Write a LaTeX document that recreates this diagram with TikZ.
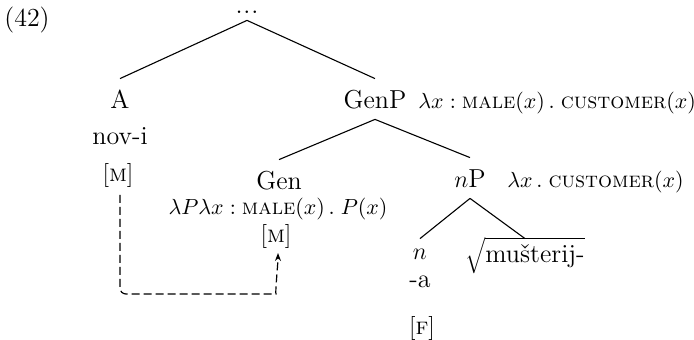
\documentclass[tikz,border=0pt]{standalone}
\usepackage{fontspec}
\usetikzlibrary{arrows.meta,calc}
\begin{document}
\begin{tikzpicture}[x=0.5pt,y=-0.5pt,
  every node/.style={inner sep=0pt, font=\fontsize{13}{15}\selectfont},
  cat/.style={anchor=base, text height=12pt, text depth=2pt, inner ysep=3pt},
  txt/.style={anchor=base},
  small/.style={font=\fontsize{11}{13}\selectfont},
  feat/.style={font=\fontsize{12}{14}\selectfont},
  sem/.style={anchor=base west, small},
  branch/.style={line width=0.55pt},
  link/.style={line width=0.6pt, dash pattern=on 4pt off 2pt, rounded corners=3pt,
    -{Stealth[length=4pt,width=3pt]}}]
\useasboundingbox (0,0) rectangle (694,340);
\node[txt] (ex) at (27,27) {(42)};
\node[cat, text height=2pt, text depth=1pt, inner ysep=2pt] (top) at (247,14) {.\kern0.4pt.\kern0.4pt.};
\node[cat] (A) at (120,109) {A};
\node[txt] (novi) at (120,145) {nov-i};
\node[txt, feat] (mL) at (118,182) {[\textsc{m}]};
\node[cat] (GenP) at (375,109) {GenP};
\node[sem] (semGenP) at (418,109) {$\lambda x : \textsc{male}(x)\,.\;\textsc{customer}(x)$};
\node[cat] (Gen) at (279,190) {Gen};
\node[txt, small] (semGen) at (278,215) {$\lambda P\lambda x : \textsc{male}(x)\,.\;P(x)$};
\node[txt, feat] (mG) at (276,243) {[\textsc{m}]};
\node[cat] (nP) at (470,188) {$n$P};
\node[sem] (semnP) at (507,188) {$\lambda x\,.\;\textsc{customer}(x)$};
\node[cat, text height=7.5pt] (n) at (420,260) {$n$};
\node[txt] (a) at (420,288) {-a};
\node[txt, feat] (F) at (422,335) {[\textsc{f}]};
\node[cat, text height=9pt] (root) at (525,263) {$\sqrt{\mbox{mušterij-}}$};
\draw[branch] (top.south) -- (A.north);
\draw[branch] (top.south) -- (GenP.north);
\draw[branch] (GenP.south) -- (Gen.north);
\draw[branch] (GenP.south) -- (nP.north);
\draw[branch] (nP.south) -- (n.north);
\draw[branch] (nP.south) -- (root.north);
\draw[link] ($(mL.base)+(2,13)$) |- ($(mG.base)+(-6,51)$)
  .. controls +(5,0) and +(0,10) .. ($(mG.base)+(2,10)$);
\end{tikzpicture}
\end{document}
